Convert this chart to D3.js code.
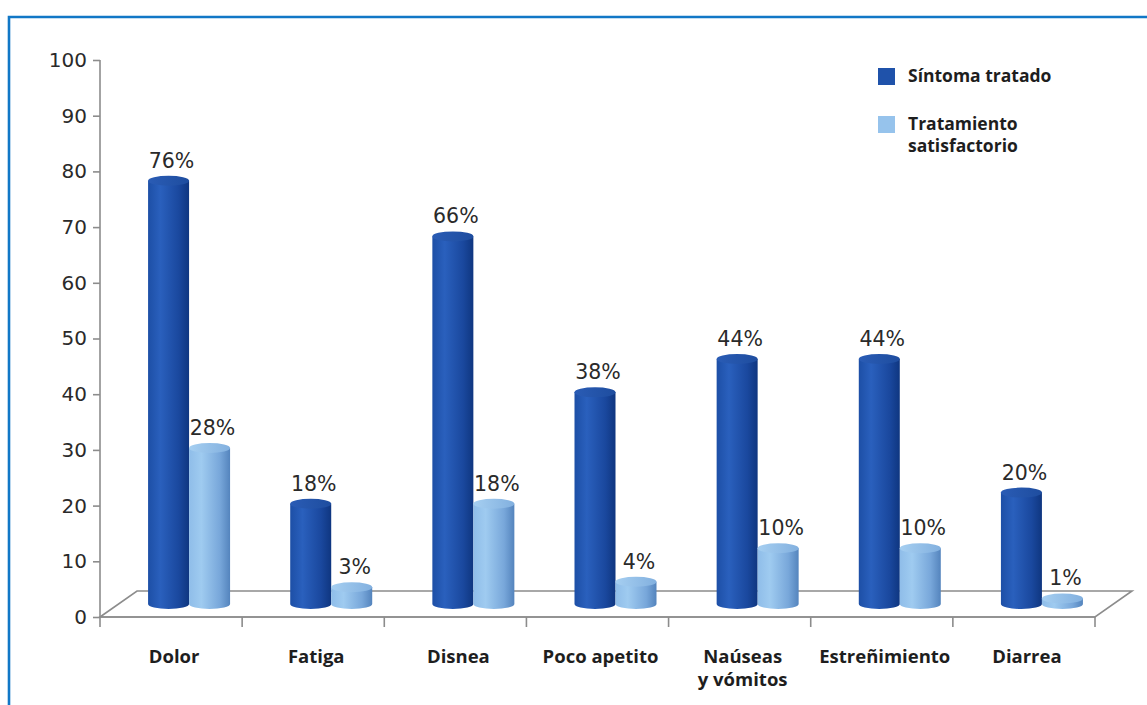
<!DOCTYPE html>
<html>
<head>
<meta charset="utf-8">
<script src="https://cdn.jsdelivr.net/npm/d3@7"></script>
<style>
  html, body { margin: 0; padding: 0; background: #ffffff; }
  svg { display: block; }
</style>
</head>
<body>
<svg id="chart" width="1147" height="705"></svg>
<script>
// ---- data ----
const categories = ["Dolor", "Fatiga", "Disnea", "Poco apetito", "Naúseas\ny vómitos", "Estreñimiento", "Diarrea"];
const sintomaTratado = [76, 18, 66, 38, 44, 44, 20];
const tratamientoSatisfactorio = [28, 3, 18, 4, 10, 10, 1];
const yTicks = [0, 10, 20, 30, 40, 50, 60, 70, 80, 90, 100];
const seriesNames = ["Síntoma tratado", "Tratamiento\nsatisfactorio"];

// ---- layout ----
const svg = d3.select("#chart");
const W = 1147, H = 705;
const left = 100, right = 1095, y0px = 617, y100px = 60;
const depthX = 37, depthY = -26;
const barW = 41, ry = 5;

const x = d3.scaleBand().domain(categories).range([left, right]).paddingInner(0).paddingOuter(0);
const y = d3.scaleLinear().domain([0, 100]).range([y0px, y100px]);

// gradients
const defs = svg.append("defs");
function grad(id, stops) {
  const g = defs.append("linearGradient").attr("id", id).attr("x1", "0").attr("x2", "1").attr("y1", "0").attr("y2", "0");
  stops.forEach(s => g.append("stop").attr("offset", s[0]).attr("stop-color", s[1]));
}
grad("gDark", [[0, "#1d4fa6"], [0.3, "#2a60bd"], [0.75, "#1a489e"], [1, "#0f3680"]]);
grad("gLight", [[0, "#8fbde9"], [0.3, "#9fcbf0"], [0.75, "#78a7da"], [1, "#5484bd"]]);
grad("gDarkTop", [[0, "#2a5cb5"], [1, "#1e4d9f"]]);
grad("gLightTop", [[0, "#a6cff1"], [1, "#82b0df"]]);

// frame
svg.append("path")
  .attr("d", `M9,${H} L9,17 L${W},17`)
  .attr("fill", "none").attr("stroke", "#1177c6").attr("stroke-width", 2.6);

// floor
const floorColor = "#8c8c8c";
const floor = svg.append("g").attr("stroke", floorColor).attr("stroke-width", 1.6).attr("fill", "none");
floor.append("path").attr("d",
  `M${left},${y(0)} L${left + depthX},${y(0) + depthY} L${right + depthX},${y(0) + depthY} L${right},${y(0)} Z`)
  .attr("fill", "#ffffff");

// x axis (front edge) with ticks between categories
const xAxis = d3.axisBottom(x).tickSize(0).tickFormat("");
const gx = svg.append("g").attr("transform", `translate(0,${y(0)})`).call(xAxis);
gx.select(".domain").attr("stroke", floorColor).attr("stroke-width", 1.6).attr("d", `M${left},0H${right}`);
const boundaries = categories.map(c => x(c) + x.bandwidth());
gx.selectAll(".bnd").data(boundaries).enter().append("line")
  .attr("x1", d => d).attr("x2", d => d).attr("y1", 0).attr("y2", 10)
  .attr("stroke", floorColor).attr("stroke-width", 1.6);

// y axis
const yAxis = d3.axisLeft(y).tickValues(yTicks).tickSize(7).tickPadding(6);
const gy = svg.append("g").attr("transform", `translate(${left},0)`).call(yAxis);
gy.select(".domain").attr("stroke", floorColor).attr("stroke-width", 1.6).attr("d", `M0,${y(100)}V${y(0) + 10}`);
gy.selectAll(".tick line").attr("stroke", floorColor).attr("stroke-width", 1.6);
gy.selectAll(".tick text").attr("font-family", "DejaVu Sans, sans-serif").attr("font-size", 20).attr("fill", "#2a2a2a");

// category labels
const catG = svg.append("g");
categories.forEach(c => {
  const lines = c.split("\n");
  const cx = x(c) + x.bandwidth() / 2 + 3;
  const t = catG.append("text")
    .attr("x", cx)
    .attr("y", 663)
    .attr("text-anchor", "middle")
    .attr("font-family", "Open Sans, sans-serif").attr("font-weight", 700)
    .attr("font-size", 18.5).attr("fill", "#1e1e1e");
  lines.forEach((l, i) => t.append("tspan").attr("x", cx).attr("dy", i === 0 ? 0 : 23).text(l));
});

// bars
const baseY = y(0) + depthY / 2;
function cyl(g, cx, v, fill, topFill) {
  const x0 = cx - barW / 2, x1 = cx + barW / 2;
  const yt = baseY - (y(0) - y(v));
  const rx = barW / 2;
  g.append("path")
    .attr("d", `M${x0},${yt} L${x0},${baseY} A${rx},${ry} 0 0 0 ${x1},${baseY} L${x1},${yt} Z`)
    .attr("fill", fill);
  g.append("ellipse").attr("cx", cx).attr("cy", yt).attr("rx", rx).attr("ry", ry).attr("fill", topFill);
  return yt;
}
const barsG = svg.append("g");
const labelsG = svg.append("g");
categories.forEach((c, i) => {
  const mid = x(c) + x.bandwidth() / 2 + depthX / 2;
  const cxDark = mid - barW / 2 - 0.5;
  const cxLight = mid + barW / 2 - 0.5;
  const ytD = cyl(barsG, cxDark, sintomaTratado[i], "url(#gDark)", "url(#gDarkTop)");
  const ytL = cyl(barsG, cxLight, tratamientoSatisfactorio[i], "url(#gLight)", "url(#gLightTop)");
  [[cxDark, ytD, sintomaTratado[i]], [cxLight, ytL, tratamientoSatisfactorio[i]]].forEach(([cx, yt, v]) => {
    labelsG.append("text")
      .attr("x", cx + 3).attr("y", yt - 13)
      .attr("text-anchor", "middle")
      .attr("font-family", "DejaVu Sans, sans-serif").attr("font-size", 20.5)
      .attr("fill", "#2a2a2a").text(v + "%");
  });
});

// legend
const legend = svg.append("g");
const legendColors = ["#1f52aa", "#96c3ec"];
const legendY = [68, 116];
seriesNames.forEach((s, i) => {
  legend.append("rect").attr("x", 878).attr("y", legendY[i]).attr("width", 17).attr("height", 17).attr("fill", legendColors[i]);
  const t = legend.append("text")
    .attr("x", 908).attr("y", legendY[i] + 14)
    .attr("font-family", "Open Sans, sans-serif").attr("font-weight", 700)
    .attr("font-size", 17.5).attr("fill", "#1e1e1e");
  s.split("\n").forEach((l, j) => t.append("tspan").attr("x", 908).attr("dy", j === 0 ? 0 : 22).text(l));
});
</script>
</body>
</html>
